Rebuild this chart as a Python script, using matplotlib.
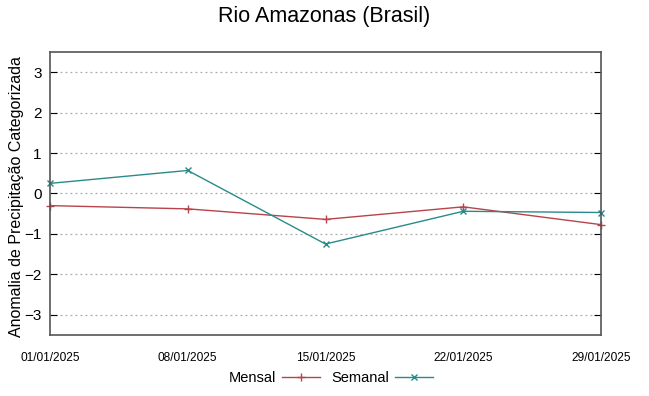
import matplotlib
matplotlib.use("Agg")
import matplotlib.pyplot as plt
import pandas as pd

plt.rcParams['font.family'] = ['Liberation Sans', 'DejaVu Sans']

# data
datas = ['01/01/2025', '08/01/2025', '15/01/2025', '22/01/2025', '29/01/2025']
mensal = [-0.30, -0.38, -0.64, -0.33, -0.77]
semanal = [0.25, 0.57, -1.25, -0.44, -0.47]


def main():
    x = pd.to_datetime(datas, format='%d/%m/%Y')

    fig = plt.figure(figsize=(6.49, 3.96), dpi=100)
    ax = fig.add_axes([50 / 649, 1 - 335 / 396, 551 / 649, 283 / 396])

    ax.plot(x, mensal, color='#b8434a', lw=1.0, marker='+', ms=6, mew=1.0,
            label='Mensal', clip_on=False)
    ax.plot(x, semanal, color='#2a8a8a', lw=1.0, marker='x', ms=4.5, mew=1.0,
            label='Semanal', clip_on=False)

    ax.set_xlim(x[0], x[-1])
    ax.set_ylim(-3.5, 3.5)
    ax.set_yticks([-3, -2, -1, 0, 1, 2, 3])
    ax.set_xticks(x)
    ax.set_xticklabels(datas, fontsize=8.6)
    ax.tick_params(axis='y', labelsize=11, direction='in', right=True, length=5, pad=6)
    ax.tick_params(axis='x', direction='in', top=False, length=0, pad=12)
    for s in ax.spines.values():
        s.set_color('#555555')
        s.set_linewidth(1.2)
    ax.grid(axis='y', color='#aaaaaa', ls=(0, (1.5, 2.5)), lw=0.9)

    ax.set_ylabel('Anomalia de Precipitação Categorizada', fontsize=11.5)
    ax.yaxis.set_label_coords(-0.047, 0.49)
    fig.suptitle('Rio Amazonas (Brasil)', fontsize=15.5, y=0.985)

    fig.legend(loc='lower center', bbox_to_anchor=(0.51, -0.005), ncol=2,
               frameon=False, markerfirst=False, fontsize=10.5,
               handlelength=2.6, columnspacing=0.8, handletextpad=0.4)

    fig.savefig('out.png', dpi=100)


if __name__ == '__main__':
    main()
